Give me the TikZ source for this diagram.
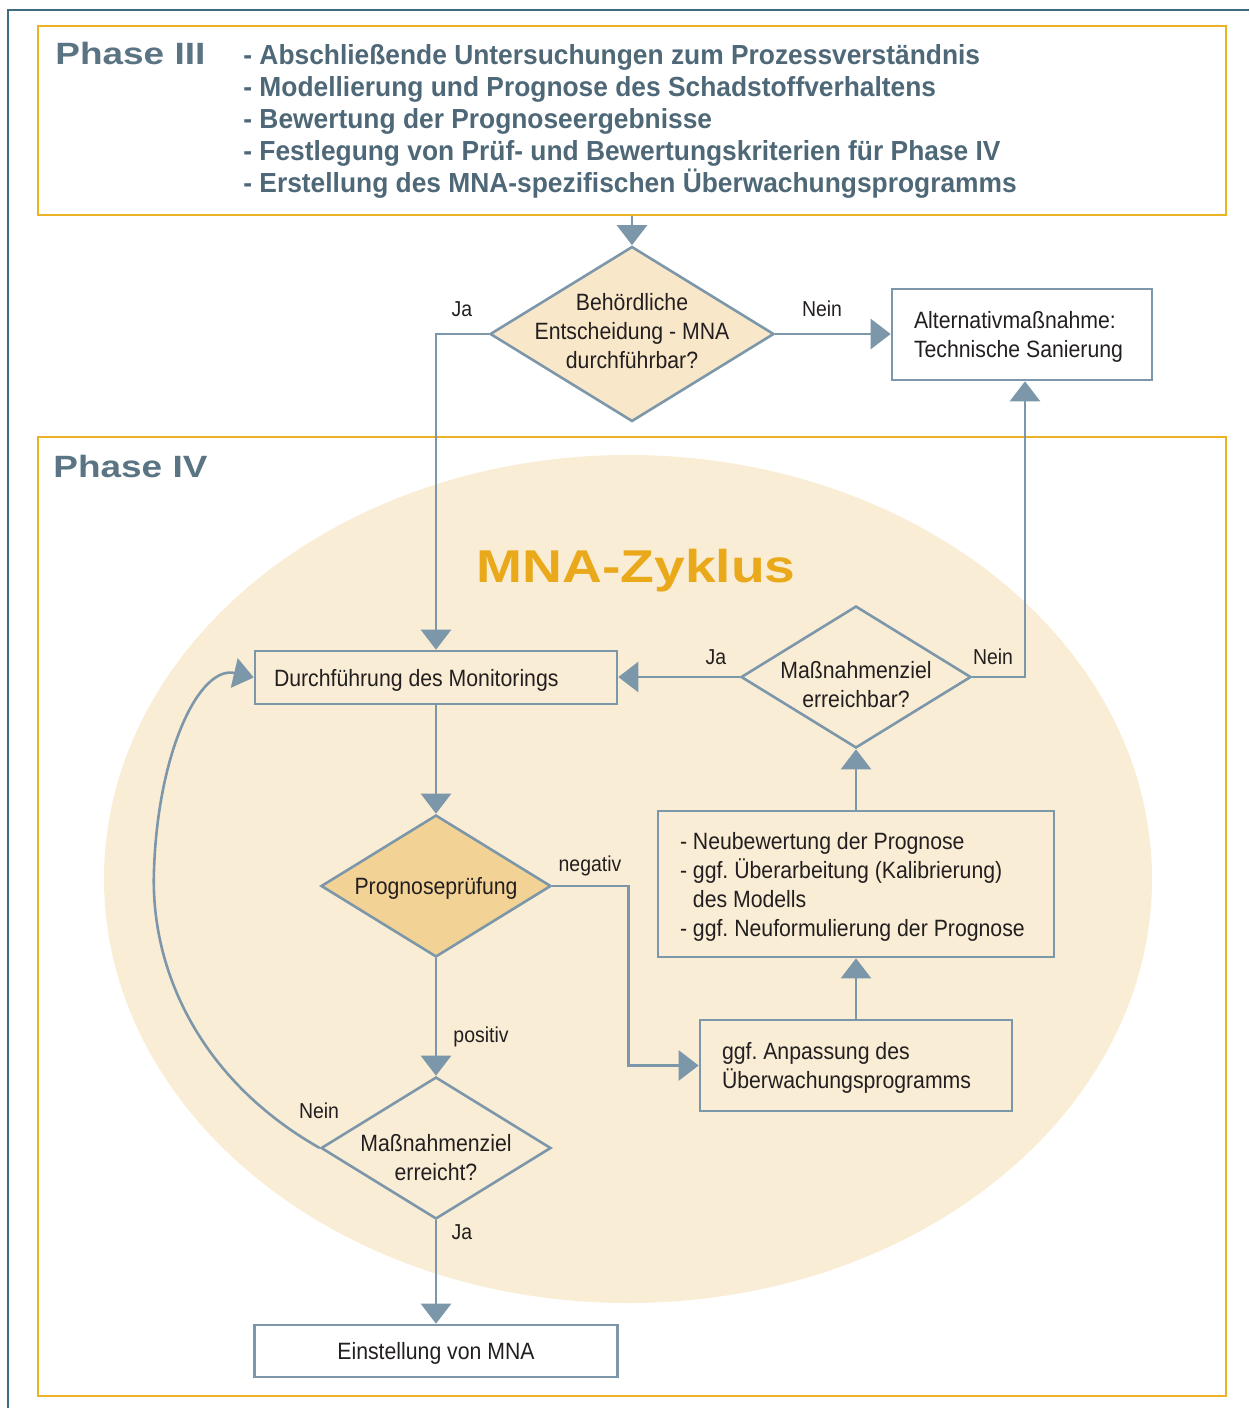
\documentclass[tikz,border=0pt]{standalone}
\usepackage{fontspec}
\setmainfont{Liberation Sans}[FakeStretch=0.9]
\newfontfamily\phasefont{Liberation Sans}[FakeStretch=1.2]
\newfontfamily\listfont{Liberation Sans}[FakeStretch=0.955]
\usetikzlibrary{shapes.geometric,arrows.meta}

\definecolor{linegray}{HTML}{7D97AA}
\definecolor{frameorange}{HTML}{EBB226}
\definecolor{framedark}{HTML}{3F6A82}
\definecolor{cyclefill}{HTML}{FAEDD5}
\definecolor{diafill}{HTML}{F9E7C9}
\definecolor{progfill}{HTML}{F2D395}
\definecolor{listgray}{HTML}{4E6878}
\definecolor{phasegray}{HTML}{5A7484}
\definecolor{cycleorange}{HTML}{E9A91B}
\definecolor{textdark}{HTML}{231F20}

\newcommand{\nodefont}{\fontsize{11.8}{14.5}\selectfont}
\newcommand{\labfont}{\fontsize{10.8}{13}\selectfont}
% centred lines inside a diamond, taking no room
\newcommand{\dtext}[2][-0.25em]{\smash{\raisebox{#1}{\makebox[0pt]{\begin{tabular}{@{}c@{}}#2\end{tabular}}}}}
% left aligned lines in a box of fixed width
\newcommand{\ltext}[2]{\makebox[#1][l]{\smash{\raisebox{-4.45pt}{\begin{tabular}{@{}l@{}}#2\end{tabular}}}}}

\begin{document}
\frenchspacing
\begin{tikzpicture}[x=0.5pt, y=-0.5pt,
    flow/.style={draw=linegray, line width=1.3pt, -{Triangle[length=10pt,width=15pt]}},
    box/.style={draw=linegray, line width=1.3pt, rectangle, inner ysep=0pt, inner xsep=11pt, font=\nodefont, text=textdark},
    dia/.style={draw=linegray, line width=1.3pt, diamond, inner sep=0pt, font=\nodefont, text=textdark},
    lab/.style={font=\labfont, text=textdark},
    phasebox/.style={draw=frameorange, line width=1.4pt, rectangle, inner sep=0pt}]
    \useasboundingbox (0,0) rectangle (1249,1408);
    % Outer frame (top and left edge only)
    \draw[framedark, line width=0.9pt] (8,1408) -- (8,10) -- (1249,10);
    % MNA cycle background
    \fill[cyclefill] (628,879) ellipse [x radius=262pt, y radius=212pt];
    % Phase III box with its list
    \node[phasebox, minimum width=594pt, minimum height=94.5pt] (p3) at (632,120.5) {};
    \node[anchor=west, inner sep=0pt, text=phasegray, font=\phasefont\bfseries\fontsize{15.4}{18}\selectfont] (p3title) at (55,53) {Phase III};
    \node[anchor=west, inner sep=0pt, align=left, text=listgray, font=\listfont\bfseries\fontsize{13.8}{16}\selectfont] (p3list) at (243,121) {- Abschließende Untersuchungen zum Prozessverständnis\\
        - Modellierung und Prognose des Schadstoffverhaltens\\
        - Bewertung der Prognoseergebnisse\\
        - Festlegung von Prüf- und Bewertungskriterien für Phase IV\\
        - Erstellung des MNA-spezifischen Überwachungsprogramms};
    % Phase IV box
    \node[phasebox, minimum width=594pt, minimum height=479.5pt] (p4) at (632,916.5) {};
    \node[anchor=west, inner sep=0pt, text=phasegray, font=\phasefont\bfseries\fontsize{15.4}{18}\selectfont] (p4title) at (53,466) {Phase IV};
    \node[text=cycleorange, font=\phasefont\bfseries\fontsize{23}{27}\selectfont] (cycle) at (636,571) {MNA-Zyklus};
    % Decision of the authority
    \node[dia, fill=diafill, minimum width=142pt, minimum height=87.5pt] (d1) at (632,334) {\dtext{Behördliche\\ Entscheidung - MNA\\ durchführbar?}};
    \node[box, minimum height=45.5pt] (alt) at (1022,334.5) {\ltext{108pt}{Alternativmaßnahme:\\ Technische Sanierung}};
    % Boxes and decisions of the cycle
    \node[box, inner xsep=9.5pt, minimum height=26.5pt] (mon) at (436,677.5) {\ltext{162pt}{Durchführung des Monitorings}};
    \node[dia, minimum width=115pt, minimum height=71pt] (d2) at (856,677) {\dtext[-8pt]{Maßnahmenziel\\ erreichbar?}};
    \node[dia, fill=progfill, minimum width=115pt, minimum height=71pt] (prog) at (436,886) {\dtext[-4.5pt]{Prognoseprüfung}};
    \node[box, minimum height=73pt] (neu) at (856,884) {\ltext{176pt}{- Neubewertung der Prognose\\
        - ggf. Überarbeitung (Kalibrierung)\\
        \phantom{- }des Modells\\
        - ggf. Neuformulierung der Prognose}};
    \node[box, minimum height=45.5pt] (anp) at (856,1065.5) {\ltext{134pt}{ggf. Anpassung des\\ Überwachungsprogramms}};
    \node[dia, minimum width=115pt, minimum height=71pt] (d3) at (436,1148) {\dtext[-9pt]{Maßnahmenziel\\ erreicht?}};
    \node[box, minimum width=181.5pt, minimum height=26pt] (ein) at (436,1351) {\smash{\raisebox{-4.2pt}{Einstellung von MNA}}};
    % Connectors
    \draw[flow] (d1.north |- p3.south) -- (d1.north);
    \draw[flow] (d1.east) -- (d1.east -| alt.west);
    \draw[flow] (d1.west) -| (mon.north);
    \draw[flow] (d2.west) -- (d2.west -| mon.east);
    \draw[flow] (d2.east) -| ([xshift=1.5pt]alt.south);
    \draw[flow] (neu.north) -- (d2.south);
    \draw[flow] (anp.north) -- (neu.south);
    \draw[flow] (mon.south) -- (prog.north);
    \draw[flow] (prog.east) -- ++(76,0) |- (anp.west);
    \draw[flow] (prog.south) -- (d3.north);
    \draw[flow] (d3.south) -- (ein.north);
    \draw[flow] (d3.west) .. controls (200,1080) and (150,970) .. (154,870)
        .. controls (158,750) and (200,665) .. (mon.west);
    % Labels on the connectors
    \node[lab] (ja1) at (462,309) {Ja};
    \node[lab] (nein1) at (822,309) {Nein};
    \node[lab] (ja2) at (716,657) {Ja};
    \node[lab] (nein2) at (993,657) {Nein};
    \node[lab] (neg) at (590,866) {negativ};
    \node[lab] (pos) at (481,1037) {positiv};
    \node[lab] (nein3) at (319,1111) {Nein};
    \node[lab] (ja3) at (462,1232) {Ja};
\end{tikzpicture}
\end{document}
